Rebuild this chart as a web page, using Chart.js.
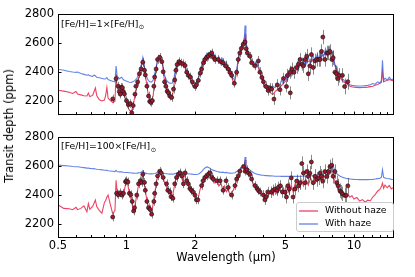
<!DOCTYPE html>
<html>
<head>
<meta charset="utf-8">
<script src="https://cdn.jsdelivr.net/npm/chart.js@4.4.0/dist/chart.umd.min.js"></script>
<style>
body { margin: 0; background: #fff; }
#wrap { position: relative; width: 415px; height: 277px; font-family: "DejaVu Sans", sans-serif; }
canvas { position: absolute; left: 0; }
.lbl { position: absolute; font-size: 11.5px; white-space: nowrap; color: #000; }
#ytitle { left: 9px; top: 126px; transform: translate(-50%, -50%) rotate(-90deg); }
#xtitle { left: 226px; top: 257px; transform: translate(-50%, -50%); }
</style>
</head>
<body>
<div id="wrap">
<canvas id="top" width="415" height="126" style="top:0"></canvas>
<canvas id="bot" width="415" height="151" style="top:126px"></canvas>
<div class="lbl" id="ytitle">Transit depth (ppm)</div>
<div class="lbl" id="xtitle">Wavelength (μm)</div>
</div>
<script>
// model spectra, shared wavelength grid (µm)
const modelWl = [
  0.50,0.53,0.56,0.58,0.60,0.61,0.63,0.65,0.67,0.68,0.69,0.71,0.72,0.73,0.74,0.76,0.78,0.80,0.81,0.82,0.83,0.85,0.87,0.89,
  0.90,0.91,0.93,0.95,0.97,0.99, 1.01,1.03,1.05,1.07,1.09,1.11,1.13,1.15,1.17,1.18,1.19,
  1.21,1.23,1.25,1.27,1.29,1.31,1.33,1.35,1.37,1.39,1.41,
  1.44,1.47,1.50,1.53,1.56,1.59,1.62,1.65,1.68,1.71,1.74,1.77,1.80,1.83,1.86,1.90,1.94,1.98,
  2.02,2.06,2.10,2.14,2.18,2.22,2.26,2.30,2.35,2.40, 2.45,2.50,2.55,2.60,2.65,2.70,2.75,2.80,2.85,2.90,
  2.95,3.00,3.05,3.10,3.15,3.20,3.25,3.30,3.32,3.35, 3.40,3.45,3.50,3.56,3.62,3.68,3.74,3.80,3.87,3.94,
  4.01,4.08,4.16,4.24,4.32,4.40,4.50,4.60,4.70,4.80, 4.90,5.00,5.10,5.20,5.30,5.40,5.50,5.60,5.70,5.80,
  5.90,6.00,6.15,6.30,6.45,6.60,6.75,6.90,7.05,7.20, 7.35,7.50,7.65,7.80,7.95,8.10,8.25,8.40,8.55,8.70,
  8.85,9.00,9.20,9.40,
  9.60,9.80,10.0,10.3,10.6,10.9,11.2,11.5,11.8,12.1, 12.4,12.7,13.0,13.2,13.35,13.5,13.7,14.0,14.3,14.6, 15.0
];

// [Fe/H] = 1x solar
const noHazeTop = [
  2272,2266,2258,2250,2264,2246,2240,2234,2232,2252,2228,2236,2262,2288,2236,2206,2198,2204,2236,2292,2218,2200,2186,2196,
  2380,2290,2255,2295,2255,2215, 2160,2135,2125,2165,2235,2295,2355,2405,2455,2478,2455,
  2380,2300,2232,2195,2188,2235,2340,2420,2478,2502,2488,
  2452,2335,2272,2242,2226,2222,2322,2420,2458,2468,2460,2452,2440,2402,2375,2352,2312,2292,
  2300,2332,2392,2432,2470,2492,2508,2496,2520,2500, 2482,2490,2462,2470,2448,2452,2418,2410,2378,2362,
  2328,2340,2398,2478,2536,2558,2590,2612,2660,2598, 2538,2512,2492,2462,2448,2440,2452,2428,2390,2350,
  2318,2292,2278,2262,2250,2242,2262,2276,2290,2304, 2322,2334,2356,2370,2384,2392,2404,2414,2432,2442,
  2452,2444,2466,2474,2464,2486,2476,2494,2496,2508, 2516,2534,2524,2546,2532,2496,2448,2410,2380,2360,
  2342,2330,2320,2310,
  2300,2296,2294,2292,2290,2291,2292,2294,2297,2300, 2306,2312,2320,2326,2400,2330,2336,2340,2346,2342, 2336
];
const hazeTop = [
  2417,2410,2402,2398,2396,2398,2388,2382,2376,2380,2372,2368,2376,2372,2362,2358,2354,2350,2352,2360,2346,2340,2334,2330,
  2440,2372,2352,2362,2345,2338, 2332,2328,2326,2332,2340,2352,2384,2424,2470,2500,2470,
  2402,2360,2338,2330,2330,2342,2384,2432,2488,2512,2500,
  2462,2376,2340,2326,2320,2322,2362,2432,2470,2480,2472,2466,2454,2420,2394,2368,2334,2318,
  2322,2346,2404,2444,2486,2500,2530,2506,2540,2505, 2520,2480,2500,2456,2490,2440,2470,2410,2420,2370,
  2350,2360,2412,2494,2550,2574,2600,2640,2720,2610, 2556,2520,2510,2470,2470,2446,2466,2440,2404,2366,
  2334,2312,2300,2304,2296,2300,2290,2320,2300,2340, 2320,2370,2340,2400,2370,2420,2390,2440,2410,2470,
  2430,2480,2450,2500,2460,2515,2470,2520,2480,2540, 2500,2560,2510,2570,2520,2540,2440,2440,2380,2380,
  2346,2346,2326,2318,
  2310,2306,2304,2302,2301,2302,2304,2306,2310,2318, 2314,2330,2322,2340,2480,2340,2356,2342,2362,2344, 2352
];

// [Fe/H] = 100x solar
const noHazeBot = [
  2330,2305,2302,2296,2312,2296,2305,2322,2282,2338,2300,2318,2340,2362,2318,2290,2272,2346,2360,2382,2398,2330,2268,2290,
  2500,2420,2398,2412,2400,2470, 2480,2412,2360,2300,2322,2400,2468,2492,2520,2540,2496,
  2428,2358,2310,2290,2268,2340,2408,2470,2530,2560,2550,
  2520,2486,2450,2424,2404,2380,2450,2512,2540,2550,2530,2490,2545,2500,2474,2442,2424,2396,
  2366,2362,2428,2466,2506,2528,2536,2548,2530,2514, 2480,2500,2460,2480,2436,2460,2420,2440,2396,2420,
  2430,2462,2502,2530,2560,2580,2596,2572,2640,2570, 2556,2548,2518,2500,2468,2448,2436,2426,2412,2398,
  2384,2366,2390,2404,2416,2400,2430,2404,2440,2410, 2446,2390,2450,2410,2466,2420,2470,2436,2484,2450,
  2500,2460,2504,2466,2516,2476,2514,2490,2526,2494, 2536,2510,2546,2540,2570,2520,2494,2464,2440,2416,
  2404,2412,2392,2404,
  2382,2392,2370,2380,2356,2366,2348,2362,2358,2384, 2400,2424,2436,2456,2480,2444,2466,2448,2464,2440, 2452
];
const hazeBot = [
  2605,2601,2598,2595,2593,2593,2590,2587,2584,2584,2582,2580,2580,2578,2576,2574,2572,2569,2569,2568,2566,2564,2562,2560,
  2568,2560,2558,2558,2555,2554, 2553,2552,2550,2549,2548,2549,2551,2553,2558,2566,2556,
  2549,2546,2545,2544,2544,2545,2547,2550,2556,2560,2556,
  2551,2547,2545,2543,2542,2542,2544,2548,2551,2552,2550,2548,2549,2546,2545,2543,2542,2540,
  2540,2541,2548,2560,2575,2586,2592,2588,2578,2570, 2566,2560,2558,2554,2556,2552,2554,2550,2549,2548,
  2550,2552,2560,2570,2578,2586,2596,2602,2660,2596, 2586,2578,2568,2560,2552,2546,2542,2540,2537,2535,
  2534,2532,2532,2530,2530,2529,2528,2528,2528,2527, 2527,2527,2527,2527,2527,2527,2527,2527,2527,2528,
  2528,2528,2529,2530,2531,2532,2534,2536,2538,2541, 2545,2550,2555,2562,2568,2604,2560,2546,2536,2528,
  2522,2518,2514,2511,
  2509,2507,2506,2505,2504,2504,2504,2504,2505,2506, 2508,2511,2514,2520,2572,2520,2516,2512,2510,2506, 2505
];

// simulated observations
const obsWlTop = [
  0.87,0.90,0.92,0.93,0.94,0.95,0.96,0.97,0.98,1.00,
  1.02,1.04,1.055,1.07,1.09,1.10,1.12,1.14,1.16,1.18,
  1.20,1.21,1.23,1.25,1.265,1.28,1.30,1.32,1.33,1.35,
  1.37,1.40,1.43,1.45,1.47,1.49,1.51,1.53,1.55,1.58,
  1.61,1.63,1.65,1.67,1.70,1.73,1.77,1.81,1.84,1.87,
  1.91,1.95,2.00,2.03,2.07,2.11,2.14,2.18,2.21,2.25,
  2.29,2.33,2.37,2.41,2.45,2.53,2.60,2.66,2.73,2.80,
  2.85,2.90,2.98,3.05,3.10,3.15,3.20,3.26,3.32,3.36,
  3.40,3.49,3.55,3.67,3.80,3.86,3.94,4.00,4.10,4.20,
  4.27,4.35,4.45,4.60,4.73,4.90,5.05,5.10,5.23,5.25,
  5.33,5.45,5.60,5.70,5.80,5.92,6.00,6.10,6.20,6.30,
  6.40,6.50,6.62,6.74,6.85,7.00,7.10,7.20,7.30,7.45,
  7.60,7.72,7.85,8.00,8.10,8.25,8.38,8.50,8.62,8.90,
  9.10,9.40
];
const obsTop = [
  2212,2352,2300,2262,2245,2292,2290,2262,2246,2200,
  2172,2180,2116,2166,2245,2300,2330,2386,2420,2466,
  2410,2378,2300,2232,2195,2188,2200,2300,2364,2419,
  2485,2500,2470,2400,2330,2300,2265,2254,2232,2222,
  2280,2343,2410,2450,2470,2460,2455,2443,2397,2375,
  2364,2330,2298,2309,2340,2390,2419,2462,2485,2500,
  2508,2520,2530,2500,2485,2485,2470,2463,2440,2419,
  2395,2375,2320,2397,2485,2530,2562,2590,2606,2560,
  2530,2508,2463,2441,2475,2397,2360,2331,2298,2270,
  2287,2280,2211,2309,2276,2353,2298,2375,2397,2254,
  2419,2397,2430,2452,2485,2452,2441,2485,2508,2386,
  2441,2519,2430,2475,2485,2485,2485,2541,2640,2485,
  2530,2530,2541,2485,2497,2397,2386,2353,2375,2375,
  2298,2331
];
const errTop = [
  30,30,30,30,30,30,30,30,30,30, 30,30,30,30,30,30,30,30,30,30,
  30,30,30,30,30,30,30,30,30,30, 30,30,30,30,30,30,30,30,30,30,
  30,30,30,30,30,30,30,30,30,30, 30,30,30,30,30,30,30,30,30,30,
  30,30,30,30,30,30,30,30,30,30, 30,30,30,30,30,30,30,30,30,30,
  30,30,30,30,35,35,35,35,35,35, 35,40,40,40,40,40,40,45,45,45,
  45,45,45,45,45,45,50,50,50,50, 50,50,50,50,50,50,50,50,50,50,
  50,50,50,50,50,50,50,50,50,50, 55,55
];

const obsWlBot = [
  0.87,0.905,0.92,0.94,0.955,0.97,0.99,1.00,1.015,1.03,
  1.045,1.06,1.075,1.085,1.11,1.13,1.15,1.165,1.18,1.20,
  1.21,1.23,1.25,1.27,1.29,1.32,1.33,1.35,1.37,1.40,
  1.42,1.45,1.50,1.52,1.55,1.57,1.60,1.63,1.66,1.69,
  1.72,1.75,1.78,1.81,1.84,1.87,1.90,1.93,1.96,2.00,
  2.03,2.06,2.14,2.17,2.21,2.25,2.29,2.33,2.37,2.41,
  2.50,2.58,2.66,2.74,2.80,2.90,3.00,3.05,3.10,3.15,
  3.27,3.32,3.38,3.43,3.49,3.55,3.67,3.75,3.80,3.86,
  4.00,4.06,4.12,4.18,4.33,4.40,4.50,4.60,4.65,4.75,
  4.85,4.98,5.05,5.12,5.20,5.30,5.40,5.50,5.60,5.70,
  5.80,5.90,6.00,6.10,6.20,6.30,6.40,6.50,6.62,6.74,
  6.87,7.00,7.10,7.20,7.30,7.45,7.60,7.72,7.85,7.98,
  8.10,8.25,8.40,8.52,8.68,8.80,8.90,9.10,9.25,9.40
];
const obsBot = [
  2245,2409,2400,2413,2397,2409,2490,2496,2488,2409,
  2400,2353,2287,2310,2397,2475,2496,2485,2541,2485,
  2430,2353,2309,2298,2265,2353,2409,2475,2530,2562,
  2551,2519,2475,2430,2419,2386,2375,2475,2519,2541,
  2551,2530,2475,2551,2496,2475,2442,2430,2419,2397,
  2364,2364,2463,2496,2519,2530,2541,2551,2519,2508,
  2496,2496,2430,2496,2450,2397,2463,2508,2530,2562,
  2595,2562,2573,2551,2541,2508,2463,2442,2430,2419,
  2397,2364,2386,2419,2417,2430,2439,2430,2450,2461,
  2419,2417,2384,2461,2440,2516,2384,2439,2494,2461,
  2483,2615,2549,2483,2560,2527,2549,2626,2483,2527,
  2505,2516,2549,2527,2494,2560,2527,2560,2593,2604,
  2527,2560,2483,2461,2428,2417,2406,2395,2395,2461
];
const errBot = [
  30,30,30,30,30,30,30,30,30,30, 30,30,30,30,30,30,30,30,30,30,
  30,30,30,30,30,30,30,30,30,30, 30,30,30,30,30,30,30,30,30,30,
  30,30,30,30,30,30,30,30,30,30, 30,30,30,30,30,30,30,30,30,30,
  30,30,30,30,30,30,30,30,30,30, 30,30,30,30,30,30,30,30,30,30,
  35,35,35,35,40,40,40,40,40,40, 40,40,45,45,45,45,45,45,45,45,
  50,50,50,50,50,50,50,50,50,50, 50,50,50,50,50,50,50,50,50,50,
  50,50,50,50,50,50,50,55,55,55
];

const xTicks = [0.5,0.6,0.7,0.8,0.9,1,2,3,4,5,6,7,8,9,10,11,12,13,14];
const xLabelled = [0.5, 1, 2, 5, 10];
const yTicks = [2200, 2400, 2600, 2800];
const panelLabels = ["[Fe/H]=1×[Fe/H]", "[Fe/H]=100×[Fe/H]"];
const legendLabels = ["Without haze", "With haze"];

const RED = "rgba(232,20,60,0.8)";
const BLUE = "rgba(60,100,226,0.8)";
const FONT = "'DejaVu Sans'";

function pairs(xs, ys) {
  return xs.map((x, i) => ({ x: x, y: ys[i] }));
}

function decor(err, label, showLegend) {
  return {
    id: "decor",
    beforeDatasetDraw(chart, args) {
      if (args.index !== 0) return;
      const ctx = chart.ctx, a = chart.chartArea;
      const xs = chart.scales.x, ys = chart.scales.y;
      ctx.save();
      ctx.beginPath();
      ctx.rect(a.left, a.top, a.right - a.left, a.bottom - a.top);
      ctx.clip();
      ctx.strokeStyle = "rgba(60,60,60,0.6)";
      ctx.lineWidth = 1;
      chart.data.datasets[0].data.forEach((p, i) => {
        const x = Math.round(xs.getPixelForValue(p.x)) + 0.5;
        ctx.beginPath();
        ctx.moveTo(x, ys.getPixelForValue(p.y - err[i]));
        ctx.lineTo(x, ys.getPixelForValue(p.y + err[i]));
        ctx.stroke();
      });
      ctx.restore();
    },
    afterDraw(chart) {
      const ctx = chart.ctx, a = chart.chartArea;
      const xs = chart.scales.x, ys = chart.scales.y;
      ctx.save();
      ctx.strokeStyle = "#000";
      ctx.lineWidth = 1;
      ctx.strokeRect(Math.round(a.left) + 0.5, Math.round(a.top) + 0.5,
        Math.round(a.right - a.left) - 1, Math.round(a.bottom - a.top) - 1);
      ctx.beginPath();
      xTicks.forEach(v => {
        const x = Math.round(xs.getPixelForValue(v)) + 0.5;
        const len = xLabelled.includes(v) ? 3.5 : 3;
        ctx.moveTo(x, a.bottom);
        ctx.lineTo(x, a.bottom - len);
      });
      yTicks.forEach(v => {
        const y = Math.round(ys.getPixelForValue(v)) + 0.5;
        ctx.moveTo(a.left, y);
        ctx.lineTo(a.left + 3.5, y);
      });
      ctx.stroke();

      // panel label with solar subscript
      ctx.fillStyle = "#000";
      ctx.textBaseline = "alphabetic";
      ctx.font = "9.3px " + FONT;
      ctx.fillText(label, a.left + 3, a.top + 12.5);
      const w = ctx.measureText(label).width;
      ctx.font = "6.5px " + FONT;
      ctx.fillText("⊙", a.left + 3 + w + 0.5, a.top + 15);

      if (showLegend) {
        const x0 = a.right - 98, y0 = a.bottom - 36, bw = 97, bh = 29;
        ctx.beginPath();
        ctx.roundRect(x0 + 0.5, y0 + 0.5, bw, bh, 2.5);
        ctx.fillStyle = "rgba(255,255,255,0.8)";
        ctx.fill();
        ctx.strokeStyle = "#cccccc";
        ctx.stroke();
        [RED, BLUE].forEach((c, i) => {
          const y = y0 + 9 + i * 13;
          ctx.strokeStyle = c;
          ctx.lineWidth = 1.3;
          ctx.beginPath();
          ctx.moveTo(x0 + 3, y);
          ctx.lineTo(x0 + 22, y);
          ctx.stroke();
          ctx.fillStyle = "#000";
          ctx.font = "9.3px " + FONT;
          ctx.textBaseline = "middle";
          ctx.fillText(legendLabels[i], x0 + 29, y);
        });
      }
      ctx.restore();
    }
  };
}

function makeChart(id, red, blue, obsX, obsY, err, label, showLegend, showX, padTop, xHeight) {
  return new Chart(document.getElementById(id), {
    type: "scatter",
    data: {
      datasets: [
        { data: pairs(obsX, obsY), showLine: false, pointRadius: 2.0,
          pointBackgroundColor: "#a3162e", pointBorderColor: "#1a1a1a", pointBorderWidth: 0.7 },
        { data: pairs(modelWl, blue), showLine: true, borderColor: BLUE, borderWidth: 1.1, pointRadius: 0 },
        { data: pairs(modelWl, red), showLine: true, borderColor: RED, borderWidth: 1.1, pointRadius: 0 }
      ]
    },
    options: {
      responsive: false,
      animation: false,
      events: [],
      layout: { padding: { top: padTop, right: 21, left: 0, bottom: 0 } },
      plugins: { legend: { display: false }, tooltip: { enabled: false } },
      scales: {
        x: {
          type: "logarithmic", min: 0.5, max: 15,
          afterBuildTicks: s => { s.ticks = xTicks.map(v => ({ value: v })); },
          afterFit: s => { s.height = xHeight; },
          grid: { display: false, drawTicks: false },
          border: { display: false },
          ticks: {
            display: showX, autoSkip: false, maxRotation: 0, padding: 1.5, color: "#000",
            font: { family: "DejaVu Sans", size: 11.5 },
            callback: v => xLabelled.includes(v) ? String(v) : ""
          }
        },
        y: {
          min: 2100, max: 2800,
          afterBuildTicks: s => { s.ticks = yTicks.map(v => ({ value: v })); },
          afterFit: s => { s.width = 58; },
          grid: { display: false, drawTicks: false },
          border: { display: false },
          ticks: {
            padding: 4, color: "#000",
            font: { family: "DejaVu Sans", size: 11.5 },
            callback: v => String(v)
          }
        }
      }
    },
    plugins: [decor(err, label, showLegend)]
  });
}

makeChart("top", noHazeTop, hazeTop, obsWlTop, obsTop, errTop, panelLabels[0], false, false, 14, 6);
makeChart("bot", noHazeBot, hazeBot, obsWlBot, obsBot, errBot, panelLabels[1], true, true, 6, 39);
</script>
</body>
</html>
